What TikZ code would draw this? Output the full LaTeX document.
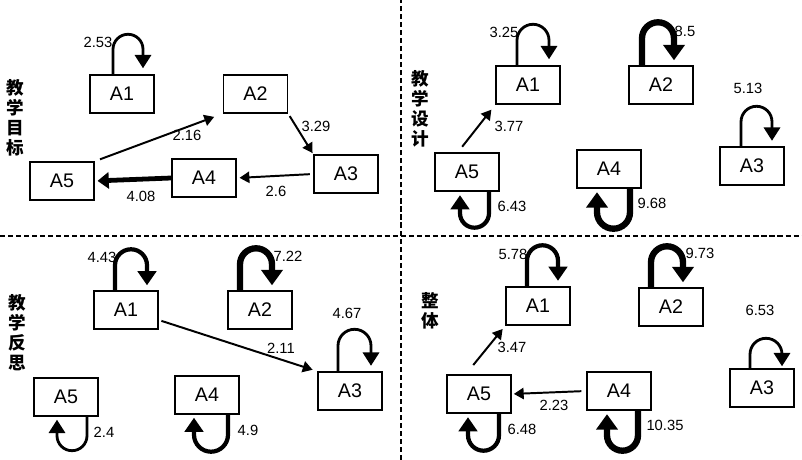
\documentclass[tikz,border=0pt]{standalone}
\usepackage{fontspec}
\setmainfont{Liberation Sans}
\newfontfamily\cjk{Noto Sans CJK SC}
\usetikzlibrary{%
  arrows.meta,%
  calc%
}

\begin{document}
\begin{tikzpicture}
  [
  x=0.025cm, y=0.025cm,
  line width=1pt,
  box/.style={rectangle, draw=black, line width=1pt, minimum width=1.6cm, minimum height=0.95cm, inner sep=0pt, font=\fontsize{14}{14}\selectfont},
  num/.style={inner sep=0pt, font=\fontsize{10.5}{10.5}\selectfont},
  side/.style={inner sep=0pt, align=center, font=\cjk\bfseries\fontsize{12.5}{14.2}\selectfont},
  sep/.style={line width=0.8pt, dash pattern=on 3.6pt off 2.1pt},
  loopa/.style={line width=2pt, -{Triangle[width=11.5pt,length=9.5pt]}},
  loopb/.style={line width=3pt, -{Triangle[width=13pt,length=10pt]}},
  loopc/.style={line width=4.5pt, -{Triangle[width=15pt,length=11pt]}},
  edge/.style={line width=1.4pt, -{Triangle[width=8pt,length=7pt]}},
  bigedge/.style={line width=3.4pt, -{Triangle[width=11.5pt,length=8pt]}},
  ]

\useasboundingbox (0,0) rectangle (802,460);

\draw[sep] (401,0) -- (401,460);
\draw[sep] (0,224) -- (802,224);

% teaching goals
\node[side] (ta) at (15,342) {教\\学\\目\\标};
\node[box] (a1) at (122,366) {A1};
\node[box] (a2) at (255.5,366) {A2};
\node[box] (a3) at (346,286) {A3};
\node[box] (a4) at (204,282) {A4};
\node[box] (a5) at (62,279) {A5};

\draw[loopa] ($(a1.north)+(-9,0)$) -- ++(0,25) arc[start angle=180,end angle=0,radius=15] -- ++(0,-19);
\draw[edge,shorten <=4pt,shorten >=6.5pt] (a5.north east) -- (a2.south west);
\draw[edge,shorten <=2pt,shorten >=1pt] (a2.south east) -- (a3.north west);
\draw[edge,shorten <=2.5pt,shorten >=2pt] (a3.west) -- (a4.east);
\draw[bigedge,shorten >=2pt] (a4.west) -- (a5.east);

\node[num] (la1) at (98,418) {2.53};
\node[num] (la2) at (187,325) {2.16};
\node[num] (la3) at (316,334) {3.29};
\node[num] (la4) at (276,269) {2.6};
\node[num] (la5) at (141,264) {4.08};

% teaching design
\node[side] (tb) at (420,351) {教\\学\\设\\计};
\node[box] (b1) at (528,375) {A1};
\node[box] (b2) at (661,375) {A2};
\node[box] (b3) at (752,294) {A3};
\node[box] (b4) at (609,291) {A4};
\node[box] (b5) at (467,288) {A5};

\draw[loopa] ($(b1.north)+(-11,0)$) -- ++(0,25) arc[start angle=180,end angle=0,radius=16] -- ++(0,-19);
\draw[loopc] ($(b2.north)+(-19,0)$) -- ++(0,27) arc[start angle=180,end angle=0,radius=16] -- ++(0,-22);
\draw[loopa] ($(b3.north)+(-11,0)$) -- ++(0,24.5) arc[start angle=180,end angle=0,radius=15.5] -- ++(0,-19);
\draw[loopc] ($(b4.south)+(21,0)$) -- ++(0,-23.5) arc[start angle=0,end angle=-180,radius=16.5] -- ++(0,20);
\draw[loopb] ($(b5.south)+(22,0)$) -- ++(0,-21.5) arc[start angle=0,end angle=-180,radius=14.5] -- ++(0,18);
\draw[edge,shorten <=5pt,shorten >=4.5pt] (b5.115) -- (b1.south west);

\node[num] (lb1) at (504,428) {3.25};
\node[num] (lb2) at (685,429) {8.5};
\node[num] (lb3) at (748,372) {5.13};
\node[num] (lb4) at (652,257) {9.68};
\node[num] (lb5) at (512,254) {6.43};
\node[num] (lb6) at (509,334) {3.77};

% teaching reflection
\node[side] (tc) at (17,127) {教\\学\\反\\思};
\node[box] (c1) at (126,150) {A1};
\node[box] (c2) at (260,150) {A2};
\node[box] (c3) at (350,69) {A3};
\node[box] (c4) at (207,65) {A4};
\node[box] (c5) at (66,63) {A5};

\draw[loopb] ($(c1.north)+(-11,0)$) -- ++(0,25) arc[start angle=180,end angle=0,radius=16] -- ++(0,-20);
\draw[loopc] ($(c2.north)+(-20,0)$) -- ++(0,26) arc[start angle=180,end angle=0,radius=16] -- ++(0,-21);
\draw[loopa] ($(c3.north)+(-12,0)$) -- ++(0,25.5) arc[start angle=180,end angle=0,radius=16.5] -- ++(0,-20);
\draw[loopb] ($(c4.south)+(21,0)$) -- ++(0,-20) arc[start angle=0,end angle=-180,radius=17] -- ++(0,17);
\draw[loopa] ($(c5.south)+(21,0)$) -- ++(0,-19) arc[start angle=0,end angle=-180,radius=15] -- ++(0,16);
\draw[edge,shorten <=2pt,shorten >=3.5pt] (c1.343) -- (c3.north west);

\node[num] (lc1) at (102,203) {4.43};
\node[num] (lc2) at (288,204) {7.22};
\node[num] (lc3) at (347,147) {4.67};
\node[num] (lc4) at (248,30) {4.9};
\node[num] (lc5) at (104,28) {2.4};
\node[num] (lc6) at (281,112) {2.11};

% overall
\node[side] (td) at (430,149) {整\\体};
\node[box] (d1) at (538,154) {A1};
\node[box] (d2) at (671,153) {A2};
\node[box] (d3) at (762,72) {A3};
\node[box] (d4) at (619,69) {A4};
\node[box] (d5) at (479,66) {A5};

\draw[loopb] ($(d1.north)+(-11,0)$) -- ++(0,25.5) arc[start angle=180,end angle=0,radius=15.5] -- ++(0,-20);
\draw[loopc] ($(d2.north)+(-20,0)$) -- ++(0,25) arc[start angle=180,end angle=0,radius=16] -- ++(0,-20);
\draw[loopa] ($(d3.north)+(-12,0)$) -- ++(0,14) arc[start angle=180,end angle=0,radius=16] -- ++(0,-12);
\draw[loopc] ($(d4.south)+(19,0)$) -- ++(0,-24.5) arc[start angle=0,end angle=-180,radius=15.5] -- ++(0,21);
\draw[loopb] ($(d5.south)+(20,0)$) -- ++(0,-21.5) arc[start angle=0,end angle=-180,radius=15.5] -- ++(0,18);
\draw[edge,shorten <=3.5pt,shorten >=1.5pt] (d4.west) -- (d5.east);
\draw[edge,shorten <=8.5pt,shorten >=3pt] (d5.124) -- (d1.south west);

\node[num] (ld1) at (513,206) {5.78};
\node[num] (ld2) at (700,207) {9.73};
\node[num] (ld3) at (760,150) {6.53};
\node[num] (ld4) at (665,35) {10.35};
\node[num] (ld5) at (522,31) {6.48};
\node[num] (ld6) at (554,55) {2.23};
\node[num] (ld7) at (512,113) {3.47};
\end{tikzpicture}
\end{document}
